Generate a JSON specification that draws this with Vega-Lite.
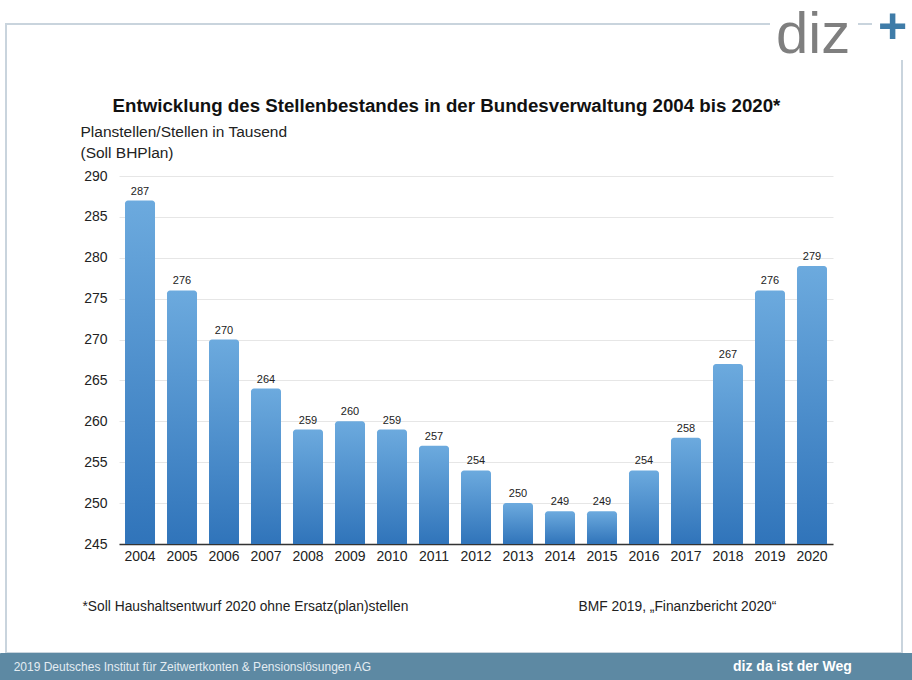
{
  "$schema": "https://vega.github.io/schema/vega-lite/v6.json",
  "width": 714,
  "height": 368,
  "autosize": {"type": "none"},
  "padding": {"left": 119, "top": 176, "right": 79, "bottom": 136},
  "background": "white",
  "config": {"font": "Liberation Sans", "view": {"stroke": null}},
  "data": {
    "values": [
      {"jahr": "2004", "stellen": 287},
      {"jahr": "2005", "stellen": 276},
      {"jahr": "2006", "stellen": 270},
      {"jahr": "2007", "stellen": 264},
      {"jahr": "2008", "stellen": 259},
      {"jahr": "2009", "stellen": 260},
      {"jahr": "2010", "stellen": 259},
      {"jahr": "2011", "stellen": 257},
      {"jahr": "2012", "stellen": 254},
      {"jahr": "2013", "stellen": 250},
      {"jahr": "2014", "stellen": 249},
      {"jahr": "2015", "stellen": 249},
      {"jahr": "2016", "stellen": 254},
      {"jahr": "2017", "stellen": 258},
      {"jahr": "2018", "stellen": 267},
      {"jahr": "2019", "stellen": 276},
      {"jahr": "2020", "stellen": 279}
    ]
  },
  "resolve": {"axis": {"x": "independent", "y": "independent"}},
  "layer": [
    {
      "mark": {
        "type": "bar",
        "cornerRadiusTopLeft": 3,
        "cornerRadiusTopRight": 3,
        "color": {
          "gradient": "linear",
          "x1": 0, "y1": 0, "x2": 0, "y2": 1,
          "stops": [
            {"offset": 0, "color": "#6caade"},
            {"offset": 1, "color": "#3074ba"}
          ]
        }
      },
      "encoding": {
        "x": {
          "field": "jahr",
          "type": "ordinal",
          "scale": {"paddingInner": 0.2857, "paddingOuter": 0.143},
          "axis": {
            "orient": "bottom",
            "labelAngle": 0,
            "labelFontSize": 14,
            "labelColor": "#222",
            "labelPadding": 5,
            "ticks": false,
            "domainColor": "#333",
            "domainWidth": 1.5,
            "grid": false,
            "title": "*Soll Haushaltsentwurf 2020 ohne Ersatz(plan)stellen",
            "titleFontSize": 13.8,
            "titleFontWeight": "normal",
            "titleColor": "#222",
            "titleAngle": 0,
            "titleAlign": "left",
            "titleBaseline": "middle",
            "titleX": -37,
            "titleY": 62
          }
        },
        "y": {
          "field": "stellen",
          "type": "quantitative",
          "scale": {"domain": [245, 290], "nice": false, "zero": false},
          "axis": {
            "orient": "left",
            "values": [245, 250, 255, 260, 265, 270, 275, 280, 285, 290],
            "domain": false,
            "ticks": false,
            "labelFontSize": 14,
            "labelColor": "#222",
            "labelPadding": 12,
            "grid": true,
            "gridColor": "#e6e6e6",
            "gridWidth": 1,
            "title": ["Planstellen/Stellen in Tausend", "(Soll BHPlan)"],
            "titleFontSize": 15.5,
            "titleFontWeight": "normal",
            "titleColor": "#222",
            "titleAngle": 0,
            "titleAlign": "left",
            "titleBaseline": "middle",
            "titleLineHeight": 21,
            "titleX": -39,
            "titleY": -45
          }
        },
        "y2": {"datum": 245}
      }
    },
    {
      "mark": {"type": "text", "baseline": "bottom", "dy": -4, "fontSize": 11, "color": "#222"},
      "encoding": {
        "x": {
          "field": "jahr",
          "type": "ordinal",
          "axis": {
            "orient": "top",
            "labels": false,
            "ticks": false,
            "domain": false,
            "grid": false,
            "title": "Entwicklung des Stellenbestandes in der Bundesverwaltung 2004 bis 2020*",
            "titleFontSize": 18.7,
            "titleFontWeight": "bold",
            "titleColor": "#111",
            "titleAngle": 0,
            "titleAlign": "center",
            "titleBaseline": "middle",
            "titleX": 327,
            "titleY": -71
          }
        },
        "y": {
          "field": "stellen",
          "type": "quantitative",
          "axis": {
            "orient": "right",
            "labels": false,
            "ticks": false,
            "domain": false,
            "grid": false,
            "title": "BMF 2019, \u201eFinanzbericht 2020\u201c",
            "titleFontSize": 13.8,
            "titleFontWeight": "normal",
            "titleColor": "#222",
            "titleAngle": 0,
            "titleAlign": "left",
            "titleBaseline": "middle",
            "titleX": -255,
            "titleY": 430
          }
        },
        "text": {"field": "stellen", "type": "quantitative"},
        "stroke": {
          "datum": 0.5,
          "type": "quantitative",
          "scale": {"domain": [0, 1], "range": ["rgba(255,255,255,0)", "rgba(255,255,255,0)"]},
          "legend": {
            "orient": "none",
            "legendX": -113,
            "legendY": -152,
            "direction": "horizontal",
            "gradientLength": 896,
            "gradientThickness": 629,
            "gradientStrokeColor": "#c9d4dd",
            "gradientStrokeWidth": 2,
            "title": null,
            "labelExpr": "''",
            "padding": 0,
            "zindex": 0
          }
        },
        "size": {
          "datum": "diz",
          "type": "ordinal",
          "scale": {"range": [11, 11]},
          "legend": {
            "orient": "none",
            "legendX": 651,
            "legendY": -175,
            "title": "diz",
            "titleFont": "Liberation Sans",
            "titleFontSize": 58,
            "titleFontWeight": "normal",
            "titleColor": "#7f7f7f",
            "titlePadding": 0,
            "titleLimit": 300,
            "labelExpr": "''",
            "symbolOpacity": 0,
            "symbolStrokeWidth": 0,
            "padding": 6,
            "fillColor": "white",
            "strokeColor": "white",
            "cornerRadius": 0,
            "zindex": 1
          }
        },
        "strokeWidth": {
          "datum": "+",
          "type": "ordinal",
          "scale": {"range": [0, 0]},
          "legend": {
            "orient": "none",
            "legendX": 753,
            "legendY": -179,
            "title": "+",
            "titleFont": "Liberation Sans",
            "titleFontSize": 50,
            "titleFontWeight": "bold",
            "titleColor": "#3f7ca8",
            "titlePadding": 0,
            "labelExpr": "''",
            "symbolSize": 0,
            "symbolOpacity": 0,
            "symbolStrokeWidth": 0,
            "padding": 6,
            "fillColor": "white",
            "strokeColor": "white",
            "cornerRadius": 0,
            "zindex": 1
          }
        },
        "opacity": {
          "datum": "diz da ist der Weg",
          "type": "ordinal",
          "scale": {"range": [1, 1]},
          "legend": {
            "orient": "none",
            "legendX": -119,
            "legendY": 477,
            "direction": "vertical",
            "title": "\u200b\u00a0\u00a02019 Deutsches Institut f\u00fcr Zeitwertkonten & Pensionsl\u00f6sungen AG",
            "titleOrient": "left",
            "titleFontSize": 12,
            "titleFontWeight": "normal",
            "titleColor": "#e4ecf2",
            "titleLimit": 800,
            "titlePadding": 343,
            "labelColor": "white",
            "labelFontSize": 14,
            "labelFontWeight": "bold",
            "labelLimit": 600,
            "labelExpr": "datum.label + '\u00a0\u00a0\u00a0\u00a0\u00a0\u00a0\u00a0\u00a0\u00a0\u00a0\u00a0\u00a0\u00a0\u00a0\u00a0\u200b'",
            "symbolSize": 0,
            "symbolOpacity": 0,
            "symbolStrokeWidth": 0,
            "fillColor": "#5d89a3",
            "strokeColor": "#5d89a3",
            "cornerRadius": 0,
            "padding": 7,
            "zindex": 2
          }
        }
      }
    }
  ]
}
